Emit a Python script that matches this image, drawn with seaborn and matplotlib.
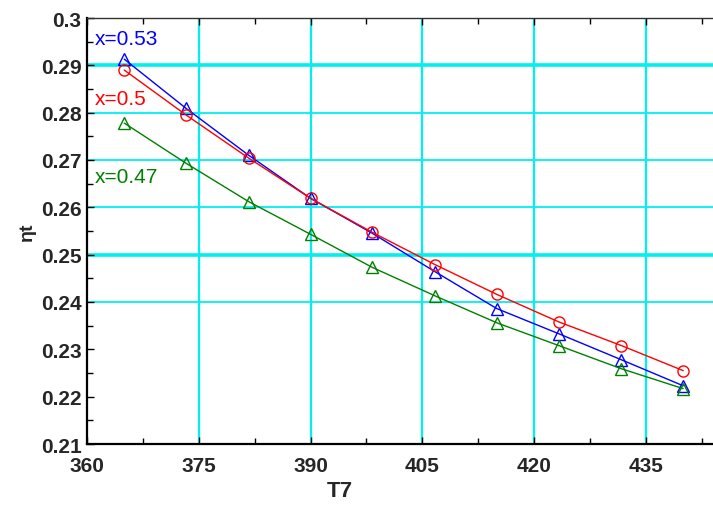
import matplotlib
matplotlib.use("Agg")
import matplotlib.pyplot as plt
import seaborn as sns
import pandas as pd
import numpy as np
from matplotlib.ticker import MultipleLocator

sns.set_theme(style="white")
plt.rcParams['font.family'] = ['Liberation Sans', 'DejaVu Sans']

T7 = [365.0, 373.3, 381.7, 390.0, 398.3, 406.7, 415.0, 423.3, 431.7, 440.0]
eta_053 = [0.2913, 0.2809, 0.2710, 0.2619, 0.2545, 0.2464, 0.2386, 0.2333, 0.2278, 0.2223]
eta_050 = [0.2890, 0.2795, 0.2704, 0.2619, 0.2547, 0.2479, 0.2416, 0.2358, 0.2308, 0.2255]
eta_047 = [0.2778, 0.2693, 0.2612, 0.2543, 0.2473, 0.2413, 0.2356, 0.2308, 0.2259, 0.2217]
series_labels = ["x=0.53", "x=0.5", "x=0.47"]
x_ticks = [360, 375, 390, 405, 420, 435]
y_ticks = [0.21, 0.22, 0.23, 0.24, 0.25, 0.26, 0.27, 0.28, 0.29, 0.3]
y_tick_labels = ["0.21", "0.22", "0.23", "0.24", "0.25", "0.26", "0.27", "0.28", "0.29", "0.3"]
y_grid = [0.24, 0.25, 0.26, 0.27, 0.28, 0.29]

df = pd.DataFrame({
    "T7": T7 * 3,
    "eta": eta_053 + eta_050 + eta_047,
    "series": [series_labels[0]] * 10 + [series_labels[1]] * 10 + [series_labels[2]] * 10,
})

colors = {"x=0.53": "#0000ff", "x=0.5": "#ff0000", "x=0.47": "#008000"}
markers = {"x=0.53": "^", "x=0.5": "o", "x=0.47": "^"}

fig = plt.figure(figsize=(7.13, 5.06), dpi=100)
ax = fig.add_axes([87/713, 61/506, 1 - 87/713, (445 - 19)/506])

# grid lines (cyan)
for xv in x_ticks[1:]:
    ax.axvline(xv, color="#00f0f0", lw=1.6, zorder=0)
for yv in y_grid:
    lw = 2.6 if yv in (0.25, 0.29) else 1.3
    ax.axhline(yv, color="#00f0f0", lw=lw, zorder=0)

for s in series_labels:
    sub = df[df["series"] == s]
    sns.lineplot(data=sub, x="T7", y="eta", ax=ax, color=colors[s], lw=1.0,
                 marker=markers[s], markersize=8, markerfacecolor="none",
                 markeredgecolor=colors[s], markeredgewidth=1.0, legend=False)

ax.set_xlim(360, 444.0)
ax.set_ylim(0.21, 0.3)
ax.set_xticks(x_ticks)
ax.set_yticks(y_ticks)
ax.set_yticklabels(y_tick_labels)
ax.xaxis.set_minor_locator(MultipleLocator(7.5))
ax.yaxis.set_minor_locator(MultipleLocator(0.005))
ax.tick_params(which="both", direction="in", top=True, bottom=True, left=True, right=False,
               color="black")
ax.tick_params(which="major", length=5, width=1)
ax.tick_params(which="minor", length=4, width=1)
ax.tick_params(axis="x", labelsize=15, pad=9)
ax.tick_params(axis="y", labelsize=15, pad=4)
for lab in ax.get_xticklabels() + ax.get_yticklabels():
    lab.set_fontweight("bold")

for side in ["left", "bottom"]:
    ax.spines[side].set_color("black")
    ax.spines[side].set_linewidth(1.6)
ax.spines["top"].set_color("#333333")
ax.spines["top"].set_linewidth(1.0)
ax.spines["right"].set_visible(False)

ax.set_xlabel("")
ax.set_ylabel("")
fig.text(340/713, 1 - 492/506, "T7", fontsize=16, fontweight="bold", ha="center", va="center")
fig.text(27/713, 1 - 232/506, "ηt", fontsize=14, fontweight="bold", ha="center", va="center",
         rotation=90)

ax.text(361.0, 0.2956, "x=0.53", color="#0000ff", fontsize=15, va="center", ha="left")
ax.text(361.0, 0.2829, "x=0.5", color="#ff0000", fontsize=15, va="center", ha="left")
ax.text(361.0, 0.2665, "x=0.47", color="#008000", fontsize=15, va="center", ha="left")

fig.savefig("out.png", dpi=100)
